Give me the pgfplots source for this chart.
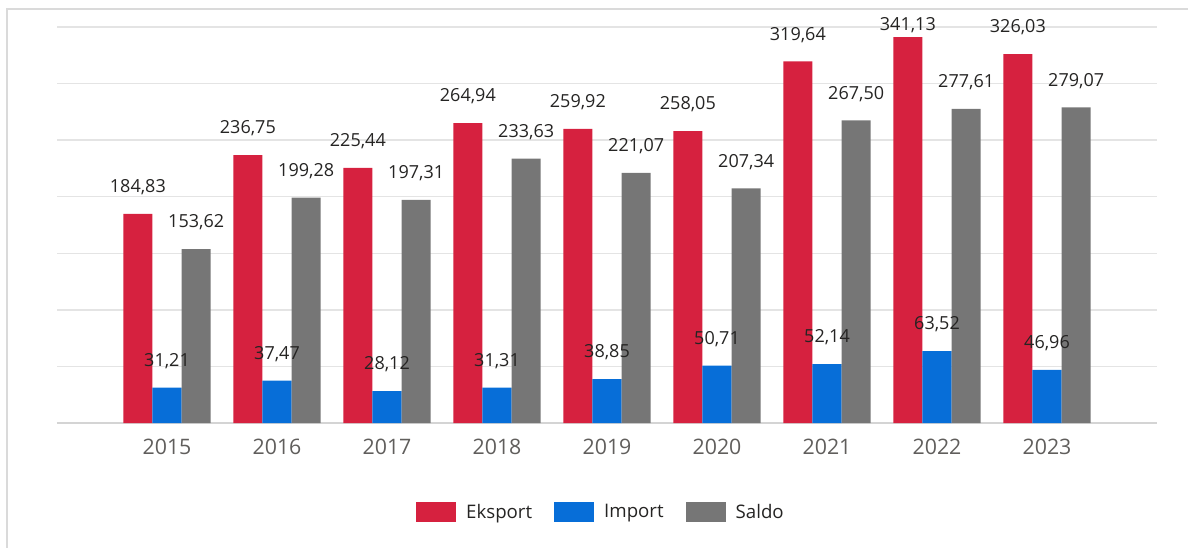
\documentclass[border=0pt]{standalone}
\usepackage{pgfplots}
\pgfplotsset{compat=1.18}
\usepackage{fontspec}
\setmainfont{Open Sans}
\definecolor{cRed}{HTML}{D6213F}
\definecolor{cBlue}{HTML}{076ED8}
\definecolor{cGray}{HTML}{767676}
\definecolor{gridc}{HTML}{E4E4E4}
\definecolor{basec}{HTML}{D4D4D4}
\definecolor{framec}{HTML}{DADADA}
\definecolor{lbl}{HTML}{252423}
\definecolor{tickc}{HTML}{605E5C}
\begin{document}
\begin{tikzpicture}
\useasboundingbox (0pt,0pt) rectangle (891pt,-411pt);
\draw[framec, line width=1.2pt] (5.25pt,-411pt) -- (5.25pt,-6.75pt) -- (891pt,-6.75pt);
\begin{axis}[
  at={(42.75pt,-317.25pt)}, anchor=south west,
  width=825pt, height=297pt, scale only axis,
  clip=false,
  xmin=-1, xmax=9, ymin=0, ymax=350,
  ytick={50,100,...,350}, yticklabels={},
  extra y ticks={0}, extra y tick labels={},
  extra y tick style={grid style={basec, line width=1.2pt}},
  ymajorgrids, grid style={gridc, line width=1pt},
  axis line style={draw=none},
  major tick length=0pt,
  xtick={0,...,8},
  xticklabels={2015,2016,2017,2018,2019,2020,2021,2022,2023},
  xticklabel style={font=\fontsize{16}{16}\selectfont, text=tickc, anchor=north, inner sep=0pt, yshift=-12pt},
  ybar=0pt, bar width=0.265,
  /pgf/number format/.cd, fixed, fixed zerofill, precision=2, use comma, assume math mode=true,
  /pgfplots/.cd,
  nodes near coords,
  every node near coord/.append style={font=\fontsize{13.5}{14}\selectfont, text=lbl, anchor=south, inner sep=0pt, yshift=14pt},
  legend style={at={(0.4936,-0.2247)}, anchor=center, draw=none, fill=none,
    legend columns=-1, font=\fontsize{14}{14}\selectfont, text=lbl,
    /tikz/every odd column/.style={column sep=7.5pt},
    /tikz/every even column/.style={column sep=16.5pt},
    nodes={inner sep=0pt}},
  legend image code/.code={\draw[#1, draw=none] (0pt,-7.5pt) rectangle (30pt,7.5pt);},
]
\addplot[fill=cRed, draw=none,
  visualization depends on={\thisrow{s} \as \lshift},
  every node near coord/.append style={yshift=\lshift pt-14pt}] table {
x y s
0 184.83 14
1 236.75 14
2 225.44 14
3 264.94 14
4 259.92 14
5 258.05 14
6 319.64 14
7 341.13 3
8 326.03 14
};
\addplot[fill=cBlue, draw=none] coordinates {(0,31.21) (1,37.47) (2,28.12) (3,31.31) (4,38.85) (5,50.71) (6,52.14) (7,63.52) (8,46.96)};
\addplot[fill=cGray, draw=none] coordinates {(0,153.62) (1,199.28) (2,197.31) (3,233.63) (4,221.07) (5,207.34) (6,267.50) (7,277.61) (8,279.07)};
\legend{Eksport,Import,Saldo}
\end{axis}
\end{tikzpicture}
\end{document}
